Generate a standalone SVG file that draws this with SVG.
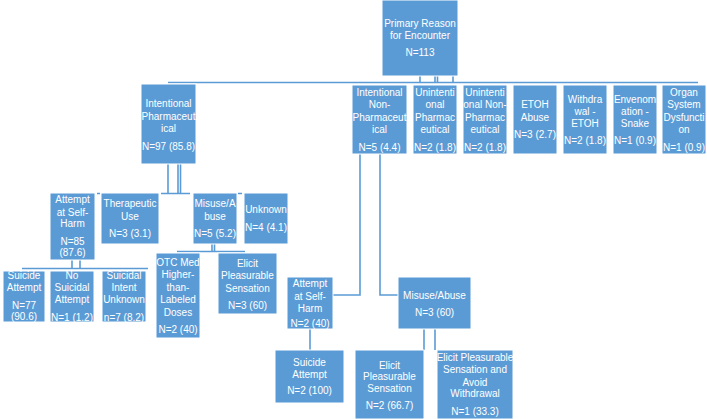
<svg xmlns="http://www.w3.org/2000/svg" width="707" height="419" viewBox="0 0 707 419">
<style>
.b{fill:#5B9BD5;stroke:#ffffff;stroke-width:1}
.t{font-family:"Liberation Sans",Arial,sans-serif;font-size:10px;fill:#ffffff;text-anchor:middle}
.c{stroke:#5B9BD5;stroke-width:1.6;fill:none}
</style>
<rect width="707" height="419" fill="#ffffff"/>
<g id="connectors">
<path class="c" d="M420,76V82M435,76V82M437.5,76V82M453,76V82"/>
<path class="c" d="M168,82.5H698"/>
<path class="c" d="M168,164V193M178,164V193M180.5,164V193M161,193.5H190"/>
<path class="c" d="M97,193.5H100M238,193.5H242"/>
<path class="c" d="M72,260V268M80,260V268M22,268.5H148"/>
<path class="c" d="M212,244V251M214.5,244V251M177,251.5H245"/>
<path class="c" d="M360,154V295H333"/>
<path class="c" d="M380,154V295H398"/>
<path class="c" d="M310,329V350"/>
<path class="c" d="M424,329V350M435,329V350"/>
</g>
<g id="primary"><rect class="b" x="382" y="0" width="76" height="76"/>
<text class="t"><tspan x="420" y="26.5">Primary Reason</tspan><tspan x="420" y="38.5">for Encounter</tspan><tspan x="420" y="55.5">N=113</tspan></text></g>
<g id="int-pharm"><rect class="b" x="141" y="84" width="55" height="80"/>
<text class="t"><tspan x="168.5" y="106.5">Intentional</tspan><tspan x="168.5" y="119.5">Pharmaceut</tspan><tspan x="168.5" y="131.5">ical</tspan><tspan x="168.5" y="149.5">N=97 (85.8)</tspan></text></g>
<g id="int-nonpharm"><rect class="b" x="352" y="85" width="55" height="69"/>
<text class="t"><tspan x="379.5" y="95.5">Intentional</tspan><tspan x="379.5" y="107.5">Non-</tspan><tspan x="379.5" y="120.5">Pharmaceut</tspan><tspan x="379.5" y="132.5">ical</tspan><tspan x="379.5" y="150.5">N=5 (4.4)</tspan></text></g>
<g id="unint-pharm"><rect class="b" x="413" y="85" width="44" height="69"/>
<text class="t"><tspan x="435" y="95.5">Unintenti</tspan><tspan x="435" y="107.5">onal</tspan><tspan x="435" y="120.5">Pharmac</tspan><tspan x="435" y="132.5">eutical</tspan><tspan x="435" y="150.5">N=2 (1.8)</tspan></text></g>
<g id="unint-nonpharm"><rect class="b" x="463" y="85" width="44" height="69"/>
<text class="t"><tspan x="485" y="95.5">Unintenti</tspan><tspan x="485" y="107.5">onal Non-</tspan><tspan x="485" y="120.5">Pharmac</tspan><tspan x="485" y="132.5">eutical</tspan><tspan x="485" y="150.5">N=2 (1.8)</tspan></text></g>
<g id="etoh-abuse"><rect class="b" x="513" y="85" width="44" height="69"/>
<text class="t"><tspan x="535" y="107.5">ETOH</tspan><tspan x="535" y="120.5">Abuse</tspan><tspan x="535" y="137.5">N=3 (2.7)</tspan></text></g>
<g id="withdrawal"><rect class="b" x="563" y="85" width="44" height="69"/>
<text class="t"><tspan x="585" y="102.5">Withdra</tspan><tspan x="585" y="114.5">wal -</tspan><tspan x="585" y="126.5">ETOH</tspan><tspan x="585" y="143.5">N=2 (1.8)</tspan></text></g>
<g id="envenomation"><rect class="b" x="613" y="85" width="44" height="69"/>
<text class="t"><tspan x="635" y="102.5">Envenom</tspan><tspan x="635" y="114.5">ation -</tspan><tspan x="635" y="126.5">Snake</tspan><tspan x="635" y="143.5">N=1 (0.9)</tspan></text></g>
<g id="organ"><rect class="b" x="662" y="85" width="44" height="69"/>
<text class="t"><tspan x="684" y="95.5">Organ</tspan><tspan x="684" y="107.5">System</tspan><tspan x="684" y="120.5">Dysfuncti</tspan><tspan x="684" y="132.5">on</tspan><tspan x="684" y="150.5">N=1 (0.9)</tspan></text></g>
<g id="ip-attempt"><rect class="b" x="50" y="193" width="45" height="67"/>
<text class="t"><tspan x="72.5" y="202.5">Attempt</tspan><tspan x="72.5" y="215.5">at Self-</tspan><tspan x="72.5" y="226.5">Harm</tspan><tspan x="72.5" y="244.5">N=85</tspan><tspan x="72.5" y="255.5">(87.6)</tspan></text></g>
<g id="ip-therapeutic"><rect class="b" x="101" y="193" width="58" height="51"/>
<text class="t"><tspan x="130" y="206.5">Therapeutic</tspan><tspan x="130" y="219.5">Use</tspan><tspan x="130" y="236.5">N=3 (3.1)</tspan></text></g>
<g id="ip-misuse"><rect class="b" x="193" y="193" width="44" height="51"/>
<text class="t"><tspan x="215" y="206.5">Misuse/A</tspan><tspan x="215" y="219.5">buse</tspan><tspan x="215" y="236.5">N=5 (5.2)</tspan></text></g>
<g id="ip-unknown"><rect class="b" x="244" y="193" width="44" height="51"/>
<text class="t"><tspan x="266" y="212.5">Unknown</tspan><tspan x="266" y="230.5">N=4 (4.1)</tspan></text></g>
<g id="sa-suicide"><rect class="b" x="3" y="271" width="42" height="51"/>
<text class="t"><tspan x="24" y="278.5">Suicide</tspan><tspan x="24" y="290.5">Attempt</tspan><tspan x="24" y="308.5">N=77</tspan><tspan x="24" y="319.5">(90.6)</tspan></text></g>
<g id="sa-nosuicidal"><rect class="b" x="50" y="271" width="44" height="51"/>
<text class="t"><tspan x="72" y="278.5">No</tspan><tspan x="72" y="290.5">Suicidal</tspan><tspan x="72" y="302.5">Attempt</tspan><tspan x="72" y="320.5">N=1 (1.2)</tspan></text></g>
<g id="sa-unknown"><rect class="b" x="102" y="271" width="44" height="51"/>
<text class="t"><tspan x="124" y="278.5">Suicidal</tspan><tspan x="124" y="290.5">Intent</tspan><tspan x="124" y="302.5">Unknown</tspan><tspan x="124" y="320.5">n=7 (8.2)</tspan></text></g>
<g id="mis-otc"><rect class="b" x="156" y="253" width="44" height="85"/>
<text class="t"><tspan x="178" y="265.5">OTC Med</tspan><tspan x="178" y="278">Higher-</tspan><tspan x="178" y="290.5">than-</tspan><tspan x="178" y="302.5">Labeled</tspan><tspan x="178" y="315.5">Doses</tspan><tspan x="178" y="332.5">N=2 (40)</tspan></text></g>
<g id="mis-elicit"><rect class="b" x="218" y="253" width="59" height="61"/>
<text class="t"><tspan x="247.5" y="266.5">Elicit</tspan><tspan x="247.5" y="278.5">Pleasurable</tspan><tspan x="247.5" y="291.5">Sensation</tspan><tspan x="247.5" y="308.5">N=3 (60)</tspan></text></g>
<g id="inp-attempt"><rect class="b" x="287" y="277" width="46" height="52"/>
<text class="t"><tspan x="310" y="286.5">Attempt</tspan><tspan x="310" y="299.5">at Self-</tspan><tspan x="310" y="311.5">Harm</tspan><tspan x="310" y="326.5">N=2 (40)</tspan></text></g>
<g id="inp-misuse"><rect class="b" x="398" y="277" width="73" height="52"/>
<text class="t"><tspan x="434.5" y="298.5">Misuse/Abuse</tspan><tspan x="434.5" y="315.5">N=3 (60)</tspan></text></g>
<g id="inp-suicide"><rect class="b" x="275" y="350" width="69" height="53"/>
<text class="t"><tspan x="309.5" y="365.5">Suicide</tspan><tspan x="309.5" y="377.5">Attempt</tspan><tspan x="309.5" y="393.5">N=2 (100)</tspan></text></g>
<g id="inp-elicit"><rect class="b" x="355" y="350" width="69" height="69"/>
<text class="t"><tspan x="389.5" y="368.5">Elicit</tspan><tspan x="389.5" y="379.5">Pleasurable</tspan><tspan x="389.5" y="391.5">Sensation</tspan><tspan x="389.5" y="408.5">N=2 (66.7)</tspan></text></g>
<g id="inp-elicit-avoid"><rect class="b" x="437" y="350" width="76" height="69"/>
<text class="t"><tspan x="475" y="360.5">Elicit Pleasurable</tspan><tspan x="475" y="372.5">Sensation and</tspan><tspan x="475" y="385.5">Avoid</tspan><tspan x="475" y="396.5">Withdrawal</tspan><tspan x="475" y="414.5">N=1 (33.3)</tspan></text></g>
</svg>
